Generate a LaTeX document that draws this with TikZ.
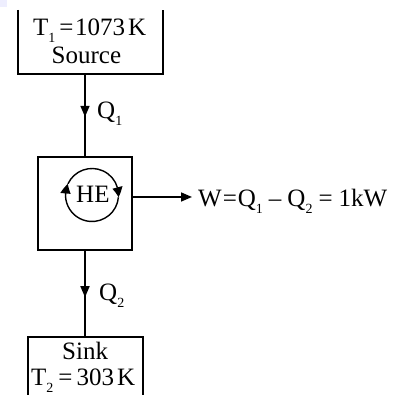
\documentclass[tikz,border=0pt]{standalone}
\usepackage{fontspec}
\setmainfont{Liberation Serif}
\usetikzlibrary{arrows.meta,bending,decorations.markings}
\newcommand{\lo}[1]{\smash{\raisebox{-7pt}{\fontsize{14}{14}\selectfont #1}}}
\begin{document}
\begin{tikzpicture}[x=1pt,y=1pt,
  lw/.style={line width=1.6pt},
  txt/.style={font=\fontsize{25}{25}\selectfont, inner sep=0pt, anchor=base west},
  flow/.style={lw, postaction={decorate}, decoration={markings, mark=at position #1 with {\arrow{Triangle[length=11pt,width=9pt]}}}},
  cyc/.style={line width=1.4pt, -{Triangle[length=10pt,width=10pt,bend]}},
  boxnode/.style={draw=none, inner sep=0pt, minimum width=#1},
]
\useasboundingbox (0,0) rectangle (398,395);
\fill[fill={rgb,255:red,238;green,238;blue,254}] (0,388) rectangle (7,395);

% source
\node[boxnode=145, minimum height=64] (src) at (90.5,353) {};
\draw[lw] (src.north west) -- (src.south west) -- (src.south east) -- (src.north east);
\node[txt] (srcT) at (33,359) {T\lo{1}\hspace{4pt}=\hspace{1.5pt}1073\hspace{3pt}K};
\node[txt] (srcS) at (51.5,331) {Source};

% engine
\node[boxnode=94, minimum height=93, draw, lw] (he) at (85,191.5) {};
\node[txt] (hec) at (76,192) {HE};
\coordinate (hc) at (92,200);
\draw[cyc] ([shift={(155:26.5)}]hc) arc[start angle=155,end angle=-5,radius=26.5];
\draw[cyc] ([shift={(-5:26.5)}]hc) arc[start angle=-5,end angle=-205,radius=26.5];

% sink
\node[boxnode=115, minimum height=58] (snk) at (85.5,29) {};
\draw[lw] (snk.south west) -- (snk.north west) -- (snk.north east) -- (snk.south east);
\node[txt] (snkS) at (62,35) {Sink};
\node[txt] (snkT) at (31,9) {T\lo{2}\hspace{5pt}=\hspace{4pt}303\hspace{3pt}K};

% flows
\draw[flow=0.52] (he.north |- src.south) -- (he.north);
\node[txt] (q1) at (97,276) {Q\lo{1}};
\draw[flow=0.54] (he.south) -- (he.south |- snk.north);
\node[txt] (q2) at (99,94) {Q\lo{2}};

\coordinate (wend) at (192,198);
\draw[lw, -{Triangle[length=11pt,width=9pt]}] (he.east |- wend) -- (wend);
\node[txt] (w) at (198,188) {W\hspace{1pt}=\hspace{1pt}Q\lo{1}\hspace{6pt}–\hspace{6pt}Q\lo{2}\hspace{6pt}=\hspace{6pt}1kW};
\end{tikzpicture}
\end{document}
